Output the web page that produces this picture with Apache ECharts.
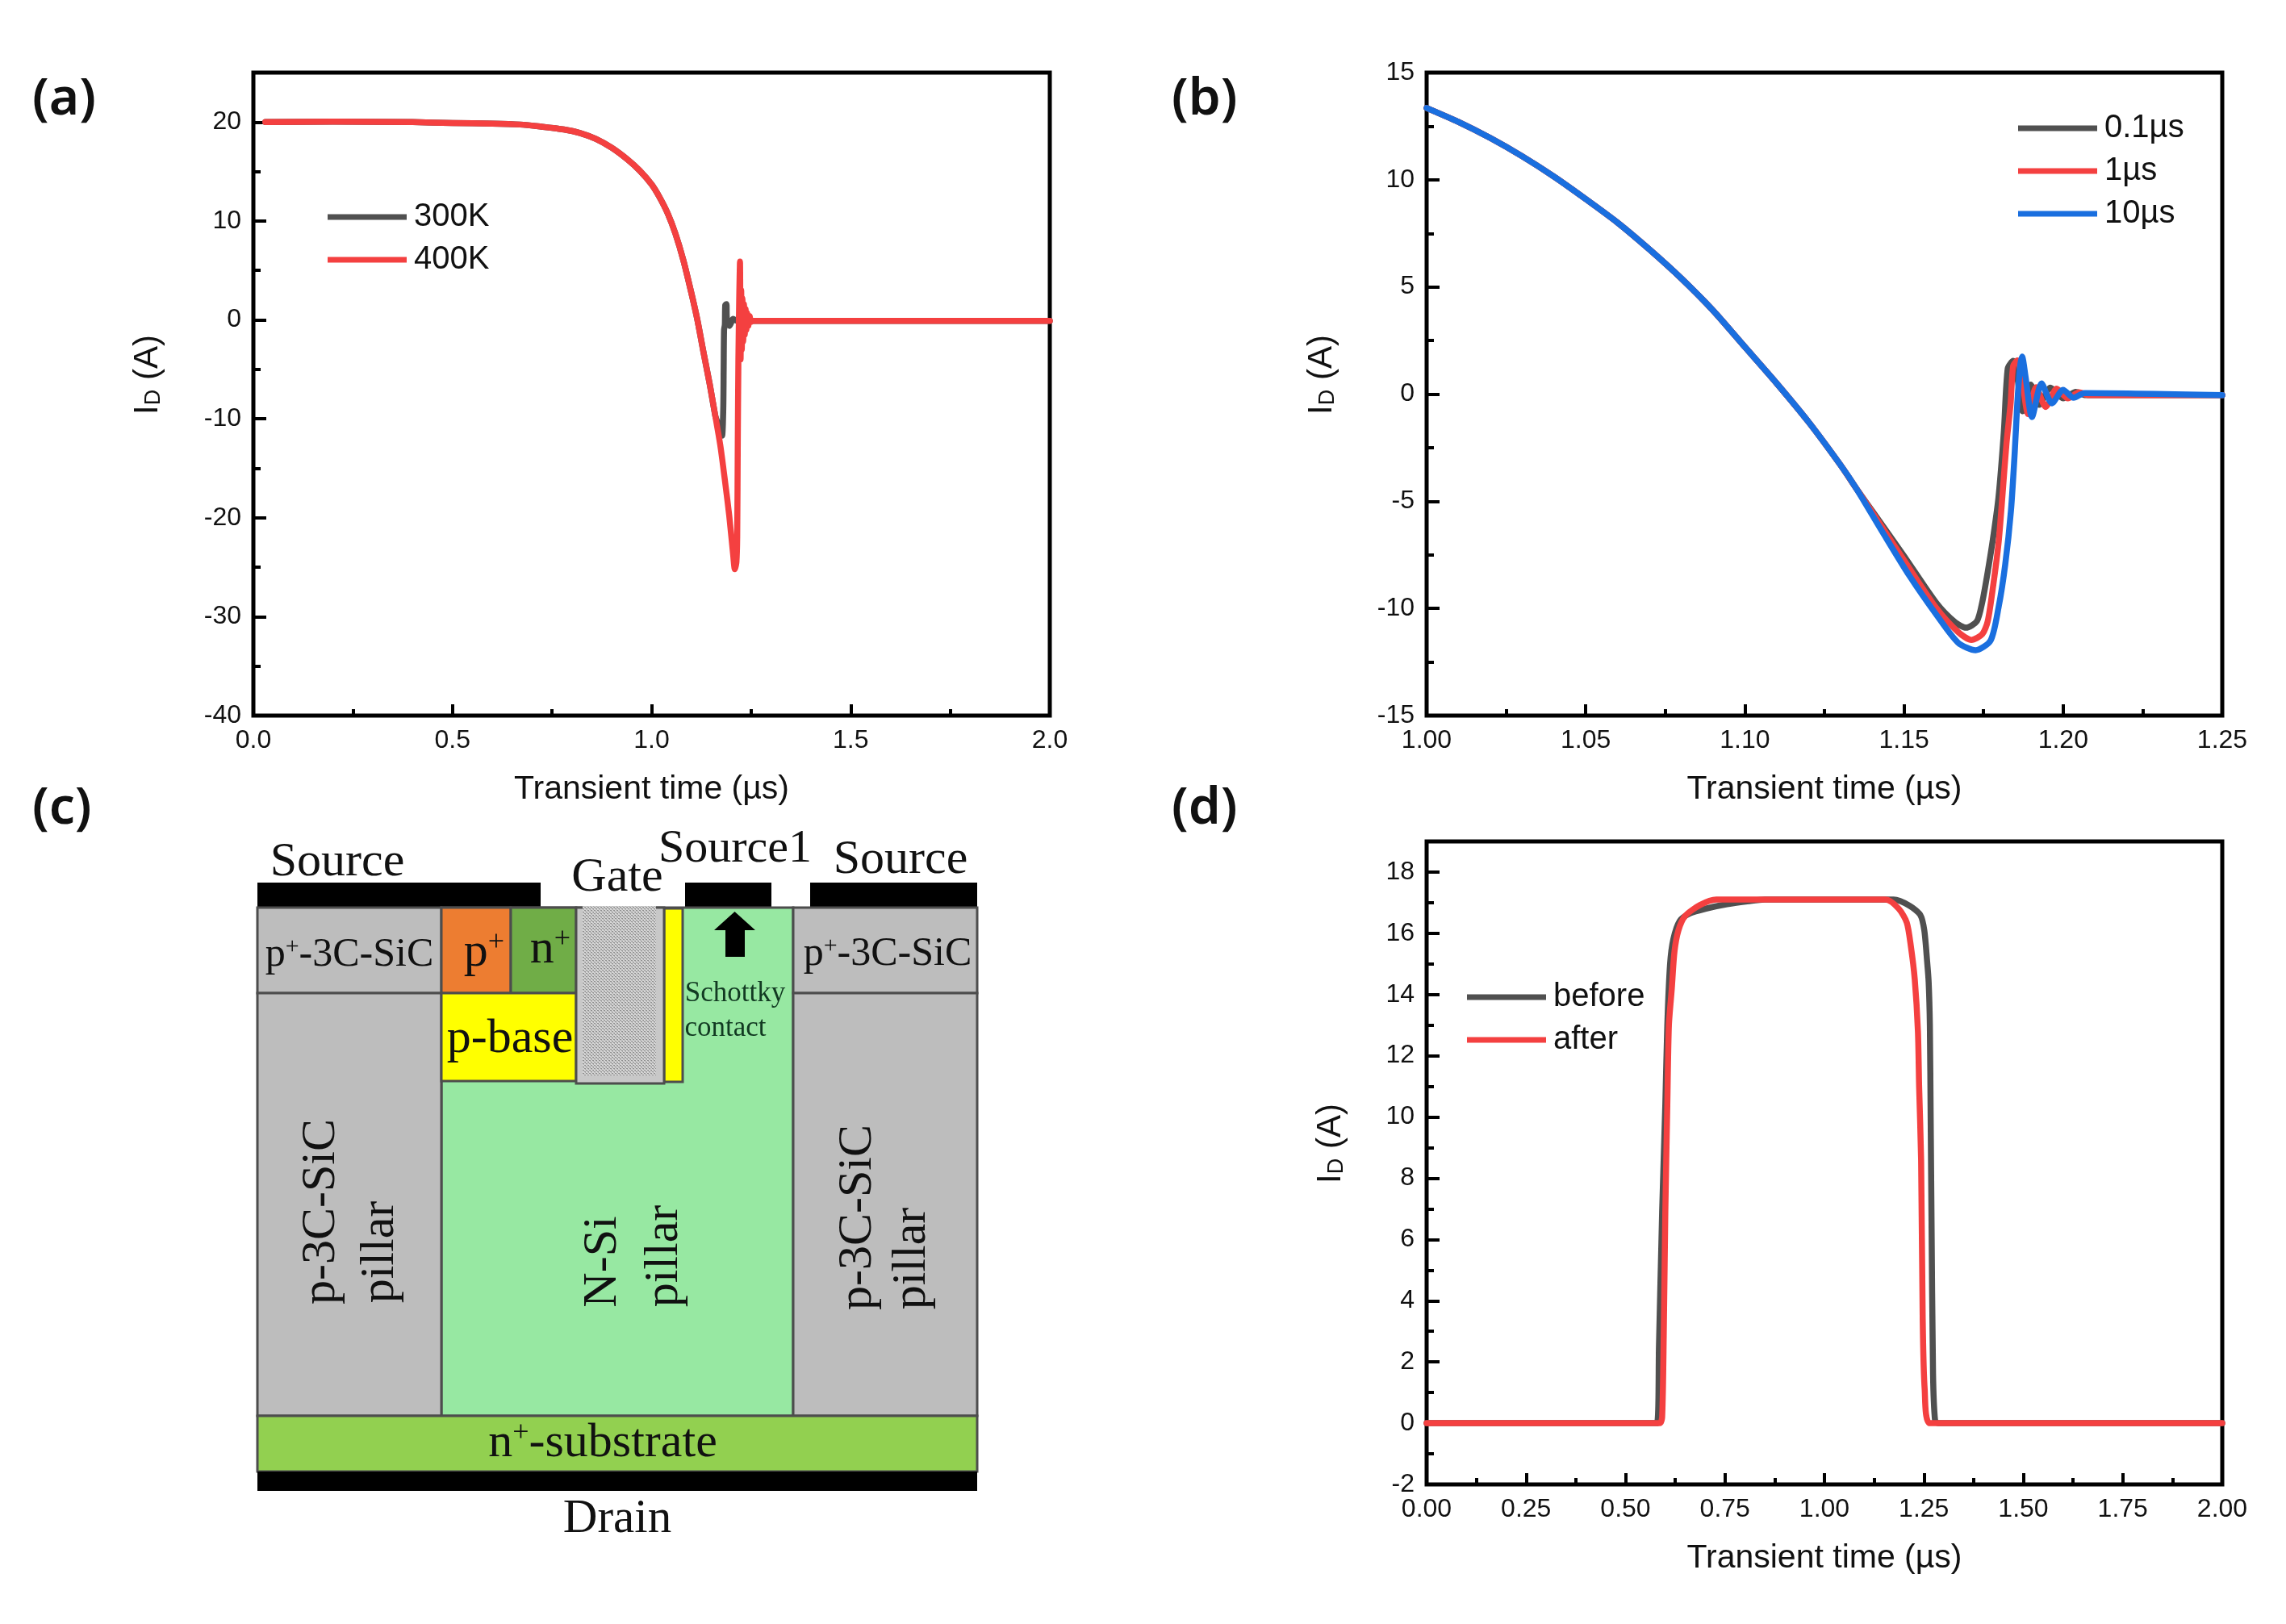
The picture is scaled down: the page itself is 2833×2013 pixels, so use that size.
<!DOCTYPE html>
<html><head><meta charset="utf-8">
<style>html,body{margin:0;padding:0;background:#fff}#c{width:2833px;height:2013px}</style>
<script src="https://cdn.jsdelivr.net/npm/echarts@6/dist/echarts.min.js"></script>
</head><body><div id="c"></div>
<script>
// ---------- panel (a) ----------
const aXTicks=[0,0.5,1,1.5,2];
const aXMinor=[0.25,0.75,1.25,1.75];
const aYTicks=[-40,-30,-20,-10,0,10,20];
const aYMinor=[-35,-25,-15,-5,5,15];
const aShared=[[0.03,20.0],[0.2,20.05],[0.4,20.0],[0.5,19.9],[0.6,19.85],[0.67,19.75],[0.72,19.55],[0.78,19.25],[0.82,18.9],[0.86,18.3],[0.9,17.4],[0.94,16.2],[0.97,15.1],[1.0,13.7],[1.02,12.4],[1.04,10.8],[1.06,8.7],[1.08,6.0],[1.1,2.7],[1.115,0],[1.13,-3.2],[1.146,-6.5],[1.16,-9.7]];
const a300KTail=[[1.165,-10.3],[1.172,-11.2],[1.177,-11.7],[1.18,-9],[1.181,-5],[1.182,-1],[1.184,-0.5],[1.185,1.5],[1.188,1.6],[1.189,0.2],[1.196,-0.6],[1.205,0.1],[1.214,-0.1],[2,-0.1]];
const a400KTail=[[1.173,-12.8],[1.185,-16.5],[1.195,-19.8],[1.205,-23.8],[1.209,-25.2],[1.213,-24.5],[1.215,-22],[1.2165,-12],[1.218,-4],[1.22,2],[1.222,5.9],[1.2235,-4],[1.225,3],[1.2265,-3],[1.228,2.2],[1.23,-2.2],[1.232,1.6],[1.234,-1.5],[1.236,1.1],[1.238,-1],[1.24,0.7],[1.243,-0.6],[1.246,0.4],[1.25,-0.2],[1.254,-0.1],[2,-0.1]];
// ---------- panel (b) ----------
const bXTicks=[1,1.05,1.1,1.15,1.2,1.25];
const bXMinor=[1.025,1.075,1.125,1.175,1.225];
const bYTicks=[-15,-10,-5,0,5,10,15];
const bYMinor=[-12.5,-7.5,-2.5,2.5,7.5,12.5];
const bShared=[[1,13.35],[1.01,12.7],[1.02,11.95],[1.03,11.1],[1.04,10.15],[1.05,9.1],[1.06,8.0],[1.07,6.75],[1.08,5.4],[1.09,3.9],[1.1,2.2],[1.11,0.5],[1.12,-1.3],[1.13,-3.3],[1.135,-4.4]];
const b01Tail=[[1.14,-5.45],[1.15,-7.55],[1.1602,-9.75],[1.1661,-10.65],[1.1695,-10.9],[1.1729,-10.6],[1.1746,-9.7],[1.1763,-8.3],[1.178,-6.7],[1.1797,-4.8],[1.1814,-1.7],[1.1826,1.2],[1.1843,1.55],[1.1856,0.8],[1.1873,-0.8],[1.1898,0.44],[1.1925,-0.5],[1.196,0.3],[1.2,-0.2],[1.204,0.1],[1.207,-0.05],[1.25,-0.05]];
const b1Tail=[[1.14,-5.5],[1.15,-7.75],[1.16,-9.95],[1.167,-11.1],[1.1712,-11.47],[1.1746,-11.2],[1.1763,-10.6],[1.178,-8.96],[1.1797,-6.96],[1.1809,-4.8],[1.1822,-2.3],[1.1835,-0.43],[1.1843,1.32],[1.1856,1.57],[1.1873,0.44],[1.189,-0.93],[1.1915,0.32],[1.1945,-0.6],[1.198,0.25],[1.2015,-0.2],[1.205,0.08],[1.208,-0.05],[1.25,-0.05]];
const b10Tail=[[1.1433,-6.45],[1.1518,-8.5],[1.1602,-10.3],[1.167,-11.6],[1.1725,-11.95],[1.1772,-11.5],[1.1797,-9.96],[1.1818,-7.96],[1.1836,-5.45],[1.1848,-2.7],[1.1856,-0.43],[1.1865,1.3],[1.1871,1.75],[1.1882,0.8],[1.1902,-1.07],[1.1932,0.5],[1.1965,-0.43],[1.2,0.2],[1.2033,-0.17],[1.2067,0.05],[1.25,-0.05]];
// ---------- panel (d) ----------
const dXTicks=[0,0.25,0.5,0.75,1,1.25,1.5,1.75,2];
const dXMinor=[0.125,0.375,0.625,0.875,1.125,1.375,1.625,1.875];
const dYTicks=[-2,0,2,4,6,8,10,12,14,16,18];
const dYMinor=[-1,1,3,5,7,9,11,13,15,17];
const dBefore=[[0,0],[0.579,0],[0.584,2.5],[0.592,6.9],[0.6,10.4],[0.605,13],[0.612,15],[0.62,15.8],[0.636,16.4],[0.662,16.65],[0.7,16.8],[0.755,16.95],[0.81,17.05],[0.85,17.1],[1.174,17.1],[1.214,16.9],[1.241,16.6],[1.251,16.1],[1.258,15.1],[1.262,14.4],[1.265,13],[1.267,10],[1.269,6.9],[1.273,1.6],[1.278,0.1],[1.285,0],[2,0]];
const dAfter=[[0,0],[0.586,0],[0.592,0.2],[0.596,2.85],[0.6,6.9],[0.605,10.4],[0.609,13],[0.616,14.15],[0.623,15.4],[0.633,16.1],[0.65,16.57],[0.687,16.92],[0.728,17.1],[1.154,17.1],[1.187,16.8],[1.207,16.35],[1.217,15.6],[1.227,14.5],[1.235,12.8],[1.238,11],[1.243,8.6],[1.247,3.4],[1.252,1.1],[1.265,0],[2,0]];
// ---------- panel (c): device cross-section, in schematic units ----------
const schematicRegions=[
 ['metal',0,0,351,31],['metal',530,0,637,31],['metal',685,0,892,31],
 ['nsi',228,31,664,661],
 ['sic',0,31,228,137],['sic',0,137,228,661],['sic',664,31,892,137],['sic',664,137,892,661],
 ['pplus',228,31,314,137],['nplus',314,31,395,137],['pbase',228,137,395,246],
 ['pbase',504,32,527,247],['oxide',395,31,504,249],['gate',403,29,494,239],
 ['substrate',0,661,892,730],['metal',0,730,892,754]
];
const schematicArrow=[[591.5,36],[566,59],[580,59],[580,92],[604,92],[604,59],[617,59]];
const schematicLabels=[
 ['Source',99,-25,60,0],['Gate',446,-6,60,0],['Source1',592,-41,58,0],['Source',797,-28,60,0],
 ['{m|p}{s|+}{m|-3C-SiC}',114,90,50,0],['{m|p}{s|+}',281,87,60,0],['{m|n}{s|+}',363,83,60,0],
 ['p-base',313,194,60,0],['{m|p}{s|+}{m|-3C-SiC}',781,89,50,0],
 ['Schottky',592,138,35,0,'#123a22'],['contact',580,181,35,0,'#123a22'],
 ['p-3C-SiC',79,408,60,1],['pillar',152,458,60,1],['N-Si',428,470,60,1],['pillar',504,463,60,1],
 ['p-3C-SiC',744,415,60,1],['pillar',811,466,60,1],
 ['{m|n}{s|+}{m|-substrate}',428,695,60,0],['Drain',446,789,59,0]
];
const regionColors={metal:'#000000',sic:'#bdbdbd',nsi:'#97e8a2',pplus:'#ed7d31',nplus:'#70ad47',pbase:'#ffff00',oxide:'#c8c8c8',substrate:'#92d050'};
const panelLabels=[['(a)',40,92],['(b)',1452,92],['(c)',40,971],['(d)',1452,971]];

const BLACK='#505050',RED='#f44040',BLUE='#1a6fdf',INK='#111111',SANS='"Liberation Sans",Arial,sans-serif',SERIF='"Liberation Serif","Times New Roman",serif';

const hatch=document.createElement('canvas');hatch.width=hatch.height=4;
(function(){const g=hatch.getContext('2d');g.fillStyle='#d4d4d4';g.fillRect(0,0,4,4);g.fillStyle='#8f8f8f';g.fillRect(0,0,2,1);g.fillRect(2,2,2,1);g.fillStyle='#aaa';g.fillRect(1,1,1,1);g.fillRect(3,3,1,1);})();

const grids=[
 {left:314,top:90,width:987,height:797,show:true,borderColor:'#000',borderWidth:5,backgroundColor:'#fff'},
 {left:1768,top:90,width:986,height:797,show:true,borderColor:'#000',borderWidth:5,backgroundColor:'#fff'},
 {left:1768,top:1043,width:986,height:797,show:true,borderColor:'#000',borderWidth:5,backgroundColor:'#fff'},
 {left:319,top:1094,width:892,height:754}
];
const yName='{i|I}{d|D}{i| (A)}';
const nameRich={i:{fontFamily:SANS,fontSize:42,color:INK},d:{fontFamily:SANS,fontSize:27,color:INK,verticalAlign:'bottom'}};
function xAxes(g,min,max,ticks,minor,dec){return [
 {type:'value',gridIndex:g,position:'bottom',min,max,name:'Transient time (µs)',nameLocation:'middle',nameGap:71,nameMoveOverlap:false,
  nameTextStyle:{fontFamily:SANS,fontSize:41,color:INK},axisLine:{show:false,onZero:false},splitLine:{show:false},
  axisTick:{show:true,inside:true,length:14,lineStyle:{color:'#000',width:4},customValues:ticks},
  axisLabel:{margin:15,fontFamily:SANS,fontSize:32,color:INK,customValues:ticks,hideOverlap:false,formatter:v=>v.toFixed(dec)}},
 {type:'value',gridIndex:g,position:'bottom',min,max,axisLine:{show:false,onZero:false},splitLine:{show:false},axisLabel:{show:false},
  axisTick:{show:true,inside:true,length:8,lineStyle:{color:'#000',width:4},customValues:minor}}
];}
function yAxes(g,min,max,ticks,minor,gap){return [
 {type:'value',gridIndex:g,position:'left',min,max,name:yName,nameLocation:'middle',nameGap:gap,nameMoveOverlap:false,
  nameTextStyle:{rich:nameRich,padding:[0,0,0,48]},axisLine:{show:false,onZero:false},splitLine:{show:false},
  axisTick:{show:true,inside:true,length:16,lineStyle:{color:'#000',width:4},customValues:ticks},
  axisLabel:{margin:15,fontFamily:SANS,fontSize:32,color:INK,customValues:ticks,hideOverlap:false,formatter:v=>String(v)}},
 {type:'value',gridIndex:g,position:'left',min,max,axisLine:{show:false,onZero:false},splitLine:{show:false},axisLabel:{show:false},
  axisTick:{show:true,inside:true,length:9,lineStyle:{color:'#000',width:4},customValues:minor}}
];}
const xAxis=[...xAxes(0,0,2,aXTicks,aXMinor,1),...xAxes(1,1,1.25,bXTicks,bXMinor,2),...xAxes(2,0,2,dXTicks,dXMinor,2),
 {type:'value',gridIndex:3,min:0,max:892,show:false}];
const yAxis=[...yAxes(0,-40,25,aYTicks,aYMinor,110),...yAxes(1,-15,15,bYTicks,bYMinor,109),...yAxes(2,-2,19,dYTicks,dYMinor,98),
 {type:'value',gridIndex:3,min:0,max:754,inverse:true,show:false}];
function line(name,axis,data,color){return {name,type:'line',xAxisIndex:axis,yAxisIndex:axis,data,showSymbol:false,symbol:'none',
  smooth:0.25,lineStyle:{color,width:7.5,join:'round',cap:'round'},itemStyle:{color},sampling:null,clip:true,z:3};}
function legend(names,left,top){return {data:names,left,top,orient:'vertical',padding:0,itemGap:13,itemWidth:98,itemHeight:7,icon:'rect',selectedMode:false,
  textStyle:{fontFamily:SANS,fontSize:40,color:INK,padding:[0,0,0,4],lineHeight:40}};}
function rectItem(p,api){
 const a=api.coord([api.value(1),api.value(2)]),b=api.coord([api.value(3),api.value(4)]);
 const key=schematicRegions[p.dataIndex][0];
 const stroke=key==='metal'||key==='gate'?null:'#4d4d4d';
 const fill=key==='gate'?{image:hatch,repeat:'repeat'}:regionColors[key];
 return {type:'rect',shape:{x:a[0],y:a[1],width:b[0]-a[0],height:b[1]-a[1]},style:{fill,stroke,lineWidth:stroke?3:0}};
}
function arrowItem(p,api){
 if(p.dataIndex>0) return null;
 return {type:'polygon',shape:{points:schematicArrow.map(q=>api.coord(q))},style:{fill:'#000'}};
}
function labelItem(p,api){
 const L=schematicLabels[p.dataIndex],c=api.coord([L[1],L[2]]);
 return {type:'text',x:c[0],y:c[1],rotation:L[4]?Math.PI/2:0,silent:true,style:{
  text:L[0],font:L[3]+'px '+SERIF,fontFamily:SERIF,fontSize:L[3],fill:L[5]||'#111',align:'center',verticalAlign:'middle',
  rich:{m:{fontFamily:SERIF,fontSize:L[3],fill:L[5]||'#111'},s:{fontFamily:SERIF,fontSize:Math.round(L[3]*0.6),fill:'#111',verticalAlign:'top'}}}};
}
const C=6;
const series=[
 line('300K',0,aShared.concat(a300KTail),BLACK),line('400K',0,aShared.concat(a400KTail),RED),
 line('0.1µs',2,bShared.concat(b01Tail),BLACK),line('1µs',2,bShared.concat(b1Tail),RED),line('10µs',2,bShared.concat(b10Tail),BLUE),
 line('before',4,dBefore,BLACK),line('after',4,dAfter,RED),
 {name:'regions',type:'custom',xAxisIndex:C,yAxisIndex:C,data:schematicRegions.map(r=>r.slice()),renderItem:rectItem,encode:{x:[1,3],y:[2,4]},z:2,clip:false,silent:true},
 {name:'arrow',type:'custom',xAxisIndex:C,yAxisIndex:C,data:schematicArrow,renderItem:arrowItem,z:3,clip:false,silent:true},
 {name:'labels',type:'custom',xAxisIndex:C,yAxisIndex:C,data:schematicLabels.map(l=>[l[1],l[2]]),renderItem:labelItem,encode:{x:0,y:1},z:4,clip:false,silent:true}
];
const title=panelLabels.map(p=>({text:p[0],left:p[1],top:p[2],padding:0,textStyle:{fontFamily:'"Noto Sans"',fontWeight:600,fontSize:64,color:'#111'}}));
const chart=echarts.init(document.getElementById('c'),null,{renderer:'canvas',width:2833,height:2013});
chart.setOption({animation:false,backgroundColor:'#fff',title,grid:grids,xAxis,yAxis,series,tooltip:{show:false},
 legend:[legend(['300K','400K'],406,249),legend(['0.1µs','1µs','10µs'],2501,139),legend(['before','after'],1818,1216)]});
</script></body></html>
